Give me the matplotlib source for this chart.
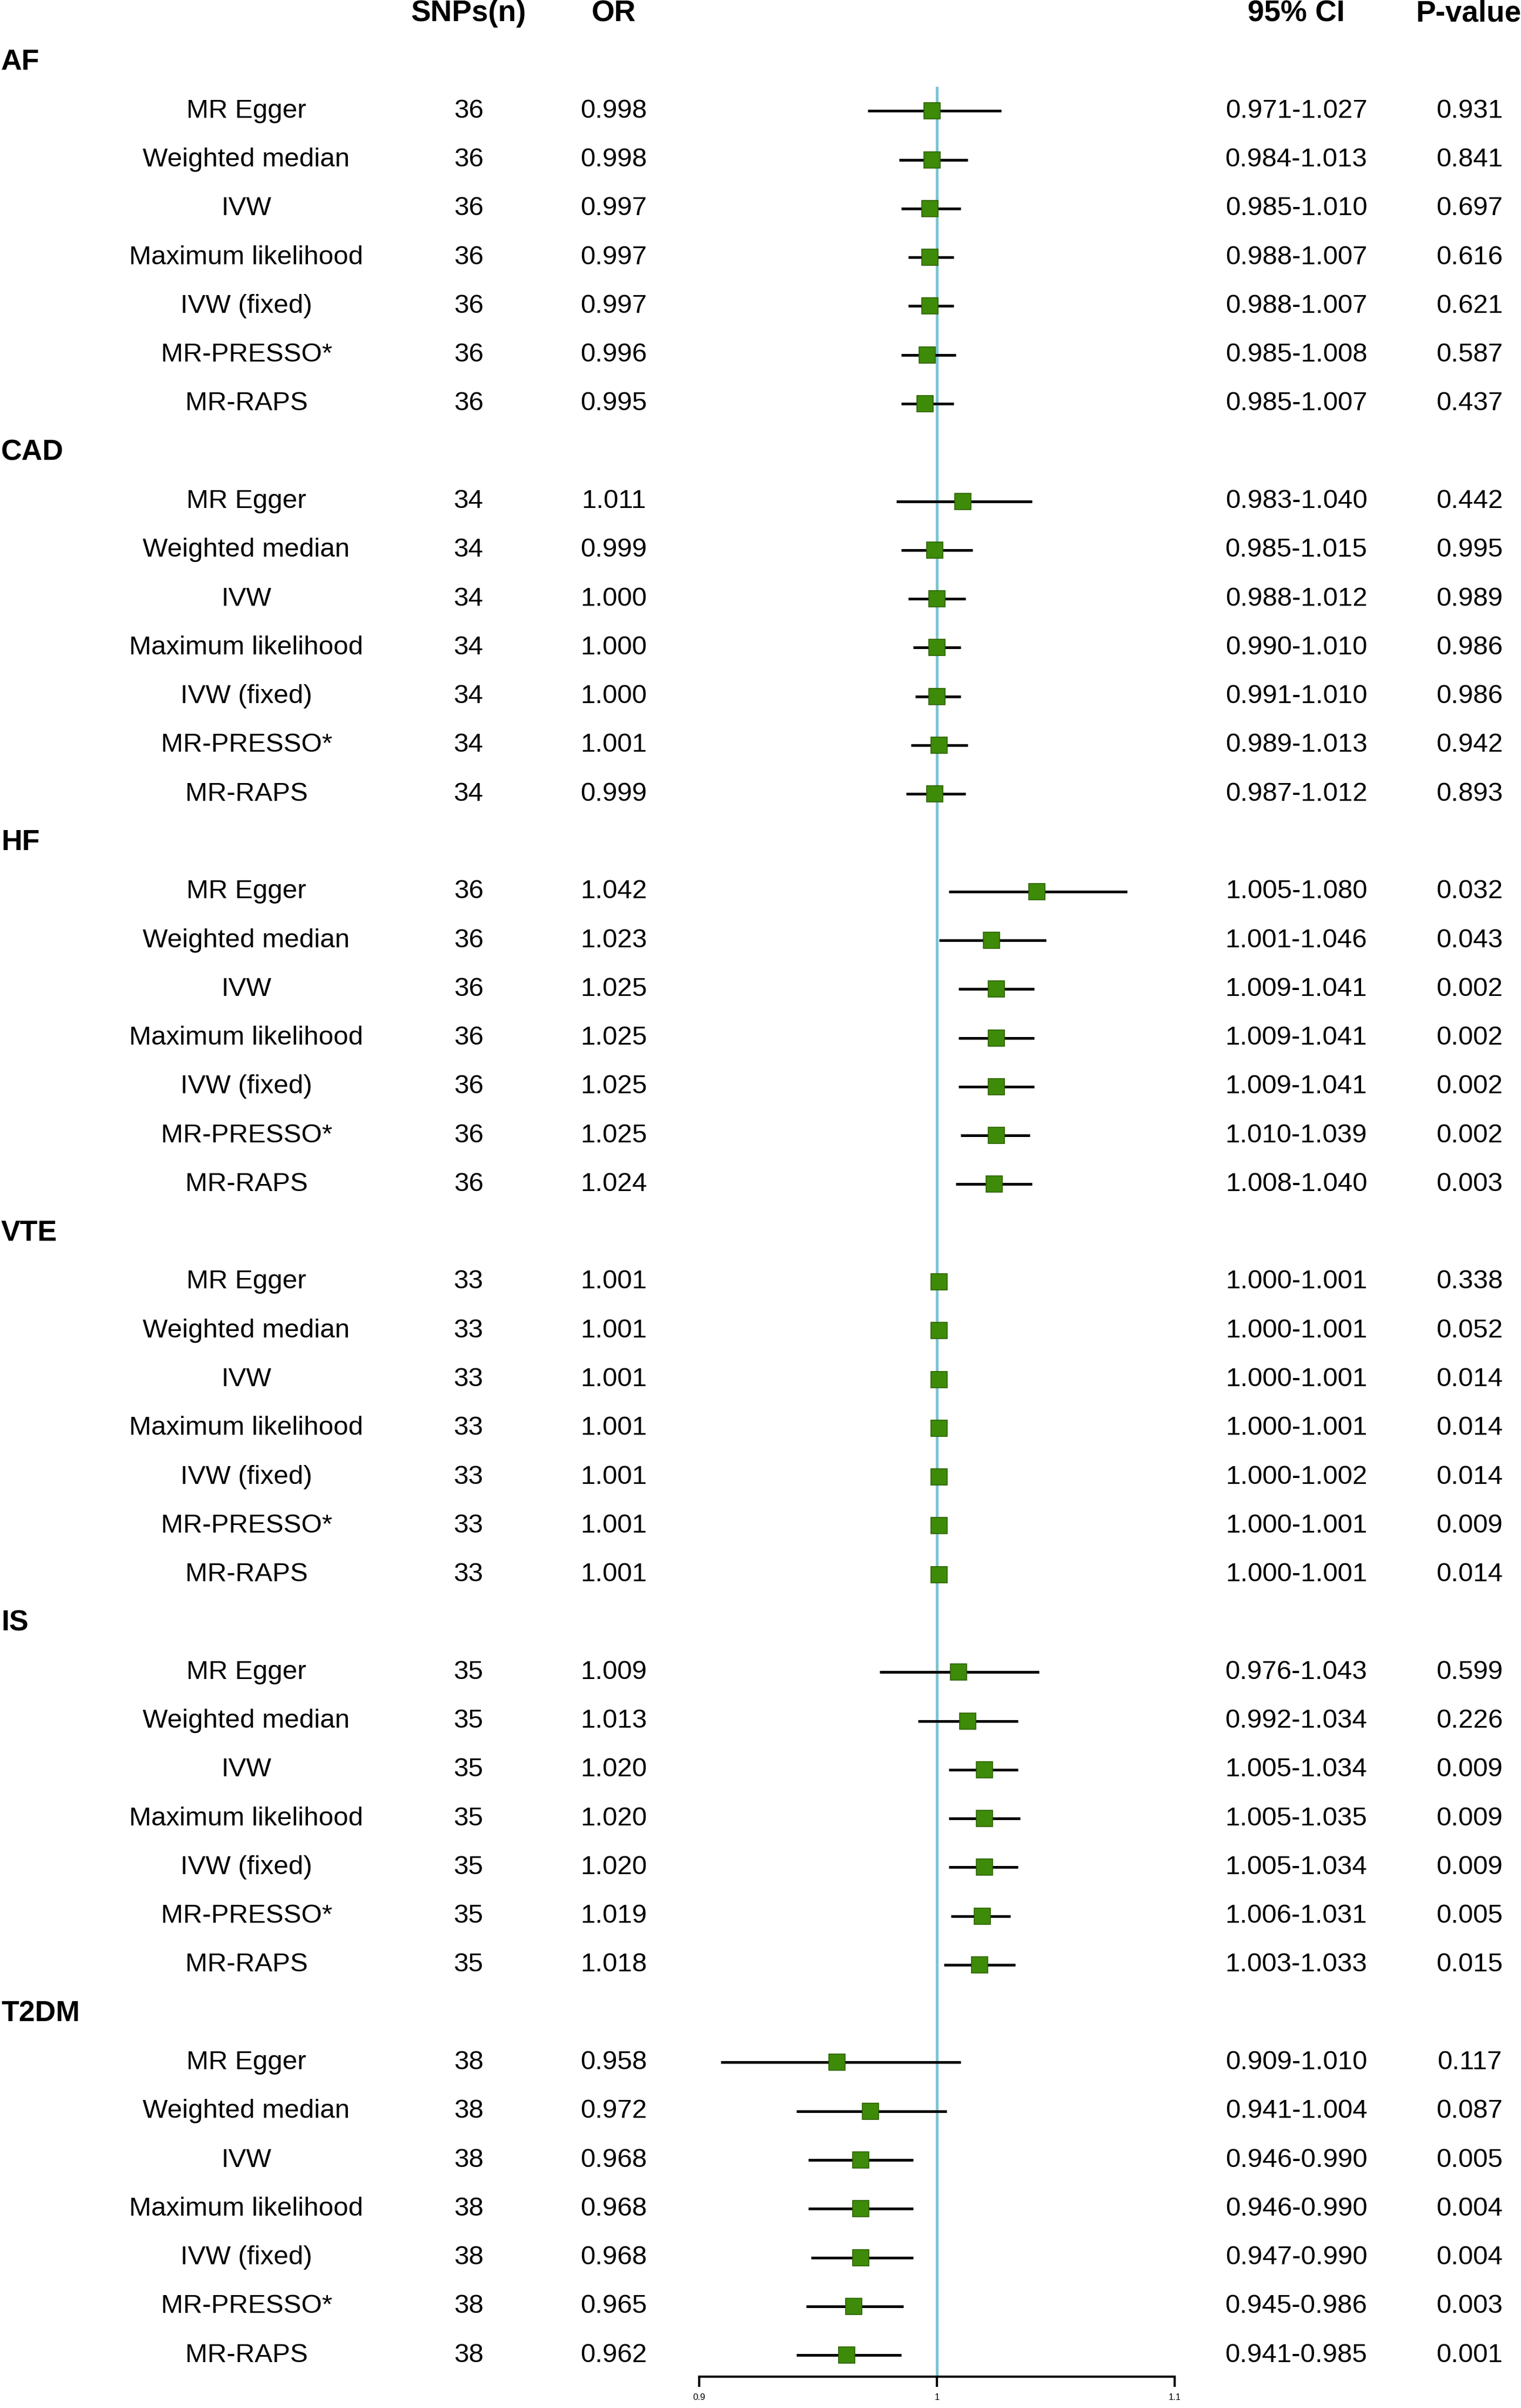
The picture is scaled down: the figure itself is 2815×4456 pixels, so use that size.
import numpy as np
import matplotlib
matplotlib.use("Agg")
import matplotlib.pyplot as plt
import matplotlib.transforms as mtransforms

plt.rcParams['font.family'] = ['Liberation Sans', 'DejaVu Sans']

# ---- data ----
outcomes = ["AF", "CAD", "HF", "VTE", "IS", "T2DM"]
methods = ["MR Egger", "Weighted median", "IVW", "Maximum likelihood",
           "IVW (fixed)", "MR-PRESSO*", "MR-RAPS"]
snps = [36, 34, 36, 33, 35, 38]

or_af = [0.998, 0.998, 0.997, 0.997, 0.997, 0.996, 0.995]
lo_af = [0.971, 0.984, 0.985, 0.988, 0.988, 0.985, 0.985]
hi_af = [1.027, 1.013, 1.010, 1.007, 1.007, 1.008, 1.007]
p_af = ["0.931", "0.841", "0.697", "0.616", "0.621", "0.587", "0.437"]

or_cad = [1.011, 0.999, 1.000, 1.000, 1.000, 1.001, 0.999]
lo_cad = [0.983, 0.985, 0.988, 0.990, 0.991, 0.989, 0.987]
hi_cad = [1.040, 1.015, 1.012, 1.010, 1.010, 1.013, 1.012]
p_cad = ["0.442", "0.995", "0.989", "0.986", "0.986", "0.942", "0.893"]

or_hf = [1.042, 1.023, 1.025, 1.025, 1.025, 1.025, 1.024]
lo_hf = [1.005, 1.001, 1.009, 1.009, 1.009, 1.010, 1.008]
hi_hf = [1.080, 1.046, 1.041, 1.041, 1.041, 1.039, 1.040]
p_hf = ["0.032", "0.043", "0.002", "0.002", "0.002", "0.002", "0.003"]

or_vte = [1.001, 1.001, 1.001, 1.001, 1.001, 1.001, 1.001]
lo_vte = [1.000, 1.000, 1.000, 1.000, 1.000, 1.000, 1.000]
hi_vte = [1.001, 1.001, 1.001, 1.001, 1.002, 1.001, 1.001]
p_vte = ["0.338", "0.052", "0.014", "0.014", "0.014", "0.009", "0.014"]

or_is = [1.009, 1.013, 1.020, 1.020, 1.020, 1.019, 1.018]
lo_is = [0.976, 0.992, 1.005, 1.005, 1.005, 1.006, 1.003]
hi_is = [1.043, 1.034, 1.034, 1.035, 1.034, 1.031, 1.033]
p_is = ["0.599", "0.226", "0.009", "0.009", "0.009", "0.005", "0.015"]

or_t2dm = [0.958, 0.972, 0.968, 0.968, 0.968, 0.965, 0.962]
lo_t2dm = [0.909, 0.941, 0.946, 0.946, 0.947, 0.945, 0.941]
hi_t2dm = [1.010, 1.004, 0.990, 0.990, 0.990, 0.986, 0.985]
p_t2dm = ["0.117", "0.087", "0.005", "0.004", "0.004", "0.003", "0.001"]

or_all = [or_af, or_cad, or_hf, or_vte, or_is, or_t2dm]
lo_all = [lo_af, lo_cad, lo_hf, lo_vte, lo_is, lo_t2dm]
hi_all = [hi_af, hi_cad, hi_hf, hi_vte, hi_is, hi_t2dm]
p_all = [p_af, p_cad, p_hf, p_vte, p_is, p_t2dm]

x_ticks = [0.9, 1.0, 1.1]
x_ticklabels = ["0.9", "1", "1.1"]

# ---- layout (pixels of a 2815 x 4456 canvas) ----
W, H = 2815, 4456
row0_px, row_step = 115, 90.28
spine_px = 4398
fig = plt.figure(figsize=(W / 100, H / 100), dpi=100)

ax_left, ax_right = 1294, 2174
ax = fig.add_axes([ax_left / W, (H - spine_px) / H, (ax_right - ax_left) / W, spine_px / H])
y_top = (0 - row0_px) / row_step
y_bot = (spine_px - row0_px) / row_step
ax.set_ylim(y_bot, y_top)
ax.set_xlim(0.9, 1.1)

ref_top = (160 - row0_px) / row_step
ax.vlines(1.0, ref_top, y_bot, color="#7cc4d2", lw=3.6, zorder=1)

trans = mtransforms.blended_transform_factory(fig.transFigure, ax.transData)

col_method = 456 / W
col_snp = 867 / W
col_or = 1136 / W
col_ci = 2399 / W
col_p = 2720 / W

hdr_y = (25 - row0_px) / row_step
hdr_kw = dict(transform=trans, ha="center", va="center", fontsize=39.5, fontweight="bold")
fig.text(col_snp, hdr_y, "SNPs(n)", **hdr_kw)
fig.text(col_or, hdr_y, "OR", **hdr_kw)
fig.text(col_ci, hdr_y, "95% CI", **hdr_kw)
fig.text(2718 / W, hdr_y, "P-value", **hdr_kw)

txt_kw = dict(transform=trans, ha="center", va="center", fontsize=35.5)

row = 0
for g, name in enumerate(outcomes):
    fig.text(2 / W, row, name, transform=trans, ha="left", va="center",
             fontsize=38.5, fontweight="bold")
    row += 1
    ys = np.arange(row, row + len(methods))
    ax.hlines(ys, lo_all[g], hi_all[g], color="black", lw=3.6, zorder=2)
    ax.plot(or_all[g], ys, ls="none", marker="s", ms=21, mfc="#3d8b08",
            mec="#2b6000", mew=1.2, zorder=3)
    for i, m in enumerate(methods):
        y = ys[i]
        fig.text(col_method, y, m, **txt_kw)
        fig.text(col_snp, y, str(snps[g]), **txt_kw)
        fig.text(col_or, y, f"{or_all[g][i]:.3f}", **txt_kw)
        fig.text(col_ci, y, f"{lo_all[g][i]:.3f}-{hi_all[g][i]:.3f}", **txt_kw)
        fig.text(col_p, y, p_all[g][i], **txt_kw)
    row += len(methods)

for s in ["top", "right", "left"]:
    ax.spines[s].set_visible(False)
ax.spines["bottom"].set_linewidth(3.0)
ax.set_yticks([])
ax.set_xticks(x_ticks)
ax.set_xticklabels(x_ticklabels, fontsize=12,
                   family=["Liberation Sans Narrow", "Liberation Sans"])
ax.tick_params(axis="x", direction="out", length=14, width=3, pad=8)
ax.patch.set_alpha(0)

fig.savefig("out.png", dpi=100)
